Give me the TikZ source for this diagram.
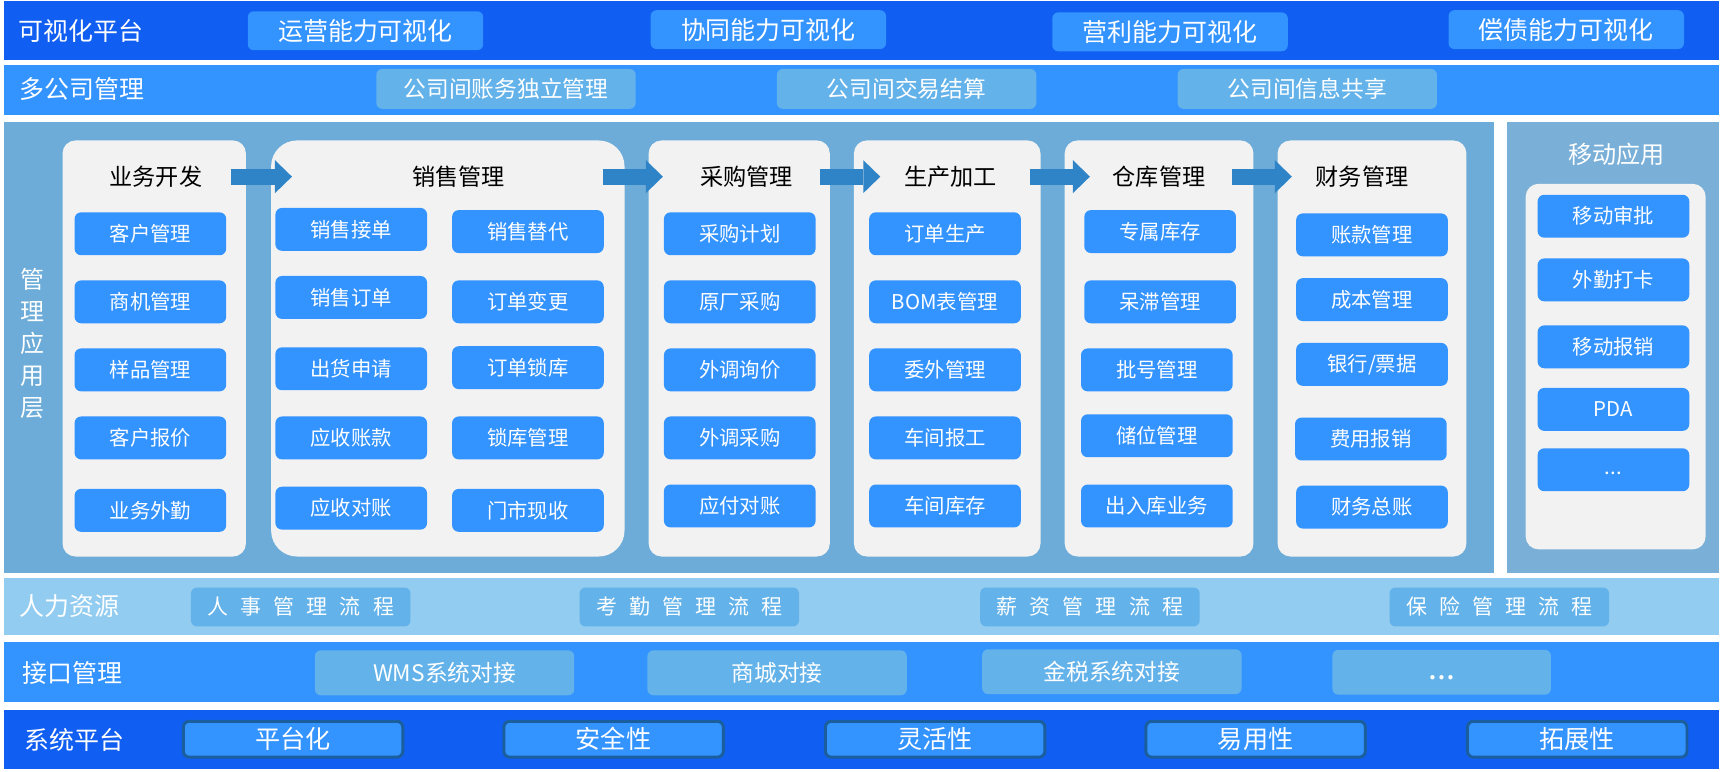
\documentclass[tikz,border=0pt]{standalone}
\usepackage{fontspec}
\setmainfont{Noto Sans CJK SC}
\usetikzlibrary{arrows.meta,calc}

\definecolor{deepblue}{HTML}{105EF2}
\definecolor{midblue}{HTML}{3393FF}
\definecolor{paleblue}{HTML}{63B2EA}
\definecolor{appblue}{HTML}{6DACD8}
\definecolor{mobblue}{HTML}{7AB0D8}
\definecolor{hrblue}{HTML}{92CCF0}
\definecolor{colgrey}{HTML}{F2F2F2}
\definecolor{flowblue}{HTML}{2E84C6}
\definecolor{rimblue}{HTML}{1A5E9E}

\begin{document}
\begin{tikzpicture}[x=0.55pt, y=-0.55pt]
    \tikzstyle{every node}=[inner sep=0pt, outer sep=0pt]
    \tikzstyle{band label}=[text=white, font=\fontsize{12.5}{15}\selectfont]
    \tikzstyle{vis box}=[rounded corners=3pt, fill=midblue, text=white, minimum width=118pt, minimum height=19.5pt, font=\fontsize{12.5}{15}\selectfont]
    \tikzstyle{corp box}=[rounded corners=3pt, fill=paleblue, text=white, minimum width=130pt, minimum height=20pt, font=\fontsize{11.4}{14}\selectfont]
    \tikzstyle{hr box}=[rounded corners=3pt, fill=paleblue, text=white, minimum width=110pt, minimum height=19.5pt, font=\fontsize{10.5}{13}\selectfont\addfontfeature{LetterSpace=58}]
    \tikzstyle{port box}=[rounded corners=3pt, fill=paleblue, text=white, minimum width=130pt, minimum height=22.5pt, font=\fontsize{11.4}{14}\selectfont]
    \tikzstyle{base box}=[rounded corners=3pt, fill=midblue, draw=rimblue, line width=1.5pt, text=white, minimum width=110pt, minimum height=18pt, font=\fontsize{12.6}{15}\selectfont]
    \tikzstyle{column}=[rounded corners=6.5pt, fill=colgrey, minimum height=208.5pt]
    \tikzstyle{col title}=[text=black, font=\fontsize{11.6}{14}\selectfont]
    \tikzstyle{item}=[rounded corners=3.3pt, fill=midblue, text=white, minimum width=76pt, minimum height=21.5pt, font=\fontsize{10.2}{12}\selectfont]
    \tikzstyle{flow}=[draw=flowblue, line width=8pt, -{Triangle[width=16.5pt, length=8.5pt, line width=0pt]}]

    \useasboundingbox (0,0) rectangle (1568,702.5);

    % bands
    \fill[deepblue] (4,1) rectangle (1566,55);
    \fill[midblue] (4,59) rectangle (1566,105);
    \fill[appblue] (4,111) rectangle (1361,522);
    \fill[mobblue] (1373,111) rectangle (1566,522);
    \fill[hrblue] (4,527) rectangle (1566,579);
    \fill[midblue] (4,585) rectangle (1566,640);
    \fill[deepblue] (4,647) rectangle (1566,701);

    % visual platform
    \node[band label] (vis) at (74,28) {可视化平台};
    \node[vis box] (vis1) at (333,28) {运营能力可视化};
    \node[vis box] (vis2) at (700,27) {协同能力可视化};
    \node[vis box] (vis3) at (1066,29) {营利能力可视化};
    \node[vis box] (vis4) at (1427,27) {偿债能力可视化};

    % multi company
    \node[band label] (corp) at (75,81) {多公司管理};
    \node[corp box] (corp1) at (461,81) {公司间账务独立管理};
    \node[corp box] (corp2) at (826,81) {公司间交易结算};
    \node[corp box] (corp3) at (1191,81) {公司间信息共享};

    % application layer
    \node[band label, align=center, font=\fontsize{12}{16}\selectfont] (app) at (30,313) {管\\理\\应\\用\\层};
    \node[column, minimum width=91.9pt] (c1) at (140.5,317.5) {};
    \node[column, minimum width=177.1pt, rounded corners=13pt] (c2) at (408,317.5) {};
    \node[column, minimum width=90.8pt] (c3) at (673.5,317.5) {};
    \node[column, minimum width=93.5pt] (c4) at (863,317.5) {};
    \node[column, minimum width=94.6pt] (c5) at (1056,317.5) {};
    \node[column, minimum width=94.6pt] (c6) at (1250,317.5) {};

    \node[col title] (t1) at (142,161) {业务开发};
    \node[col title] (t2) at (418,161) {销售管理};
    \node[col title] (t3) at (680,161) {采购管理};
    \node[col title] (t4) at (866,161) {生产加工};
    \node[col title] (t5) at (1056,161) {仓库管理};
    \node[col title] (t6) at (1241,161) {财务管理};

    \draw[flow] ($(c1.north east)+(-14,33)$) -- ($(c2.north west)+(19,33)$);
    \draw[flow] ($(c2.north east)+(-20,33)$) -- ($(c3.north west)+(13,33)$);
    \draw[flow] ($(c3.north east)+(-9,33)$) -- ($(c4.north west)+(24,33)$);
    \draw[flow] ($(c4.north east)+(-10,33)$) -- ($(c5.north west)+(23,33)$);
    \draw[flow] ($(c5.north east)+(-20,33)$) -- ($(c6.north west)+(13,33)$);

    \node[item] (biz1) at (137,213) {客户管理};
    \node[item] (biz2) at (137,275) {商机管理};
    \node[item] (biz3) at (137,337) {样品管理};
    \node[item] (biz4) at (137,399) {客户报价};
    \node[item] (biz5) at (137,465) {业务外勤};

    \node[item] (sale1) at (320,209) {销售接单};
    \node[item] (sale2) at (320,271) {销售订单};
    \node[item] (sale3) at (320,336) {出货申请};
    \node[item] (sale4) at (320,399) {应收账款};
    \node[item] (sale5) at (320,463) {应收对账};
    \node[item] (sale6) at (481,211) {销售替代};
    \node[item] (sale7) at (481,275) {订单变更};
    \node[item] (sale8) at (481,335) {订单锁库};
    \node[item] (sale9) at (481,399) {锁库管理};
    \node[item] (sale10) at (481,465) {门市现收};

    \node[item] (buy1) at (674,213) {采购计划};
    \node[item] (buy2) at (674,275) {原厂采购};
    \node[item] (buy3) at (674,337) {外调询价};
    \node[item] (buy4) at (674,399) {外调采购};
    \node[item] (buy5) at (674,461) {应付对账};

    \node[item] (make1) at (861,213) {订单生产};
    \node[item] (make2) at (861,275) {BOM表管理};
    \node[item] (make3) at (861,337) {委外管理};
    \node[item] (make4) at (861,399) {车间报工};
    \node[item] (make5) at (861,461) {车间库存};

    \node[item] (store1) at (1057,211) {专属库存};
    \node[item] (store2) at (1057,275) {呆滞管理};
    \node[item] (store3) at (1054,337) {批号管理};
    \node[item] (store4) at (1054,397) {储位管理};
    \node[item] (store5) at (1054,461) {出入库业务};

    \node[item] (fin1) at (1250,214) {账款管理};
    \node[item] (fin2) at (1250,273) {成本管理};
    \node[item] (fin3) at (1250,332) {银行/票据};
    \node[item] (fin4) at (1249,400) {费用报销};
    \node[item] (fin5) at (1250,462) {财务总账};

    % mobile
    \node[band label, font=\fontsize{12.1}{15}\selectfont] (mob) at (1473,141) {移动应用};
    \node[column, minimum width=90.2pt, minimum height=183.2pt] (cm) at (1472,334) {};
    \node[item] (mob1) at (1470,197) {移动审批};
    \node[item] (mob2) at (1470,255) {外勤打卡};
    \node[item] (mob3) at (1470,316) {移动报销};
    \node[item] (mob4) at (1470,373) {PDA};
    \node[item] (mob5) at (1470,428) {\strut...};

    % human resources
    \node[band label] (hr) at (63,552) {人力资源};
    \node[hr box] (hr1) at (274,553) {人事管理流程};
    \node[hr box] (hr2) at (628,553) {考勤管理流程};
    \node[hr box] (hr3) at (993,553) {薪资管理流程};
    \node[hr box] (hr4) at (1366,553) {保险管理流程};

    % interfaces
    \node[band label] (port) at (66,613) {接口管理};
    \node[port box] (port1) at (405,613) {WMS系统对接};
    \node[port box] (port2) at (708,613) {商城对接};
    \node[port box] (port3) at (1013,612) {金税系统对接};
    \node[port box, minimum width=109.5pt, font=\fontsize{16}{18}\selectfont] (port4) at (1313.5,612.5) {\strut...};

    % system platform
    \node[band label] (base) at (68,674) {系统平台};
    \node[base box] (base1) at (267,673.5) {平台化};
    \node[base box] (base2) at (559,673.5) {安全性};
    \node[base box] (base3) at (852,673.5) {灵活性};
    \node[base box] (base4) at (1144,673.5) {易用性};
    \node[base box] (base5) at (1437,673.5) {拓展性};
\end{tikzpicture}
\end{document}
